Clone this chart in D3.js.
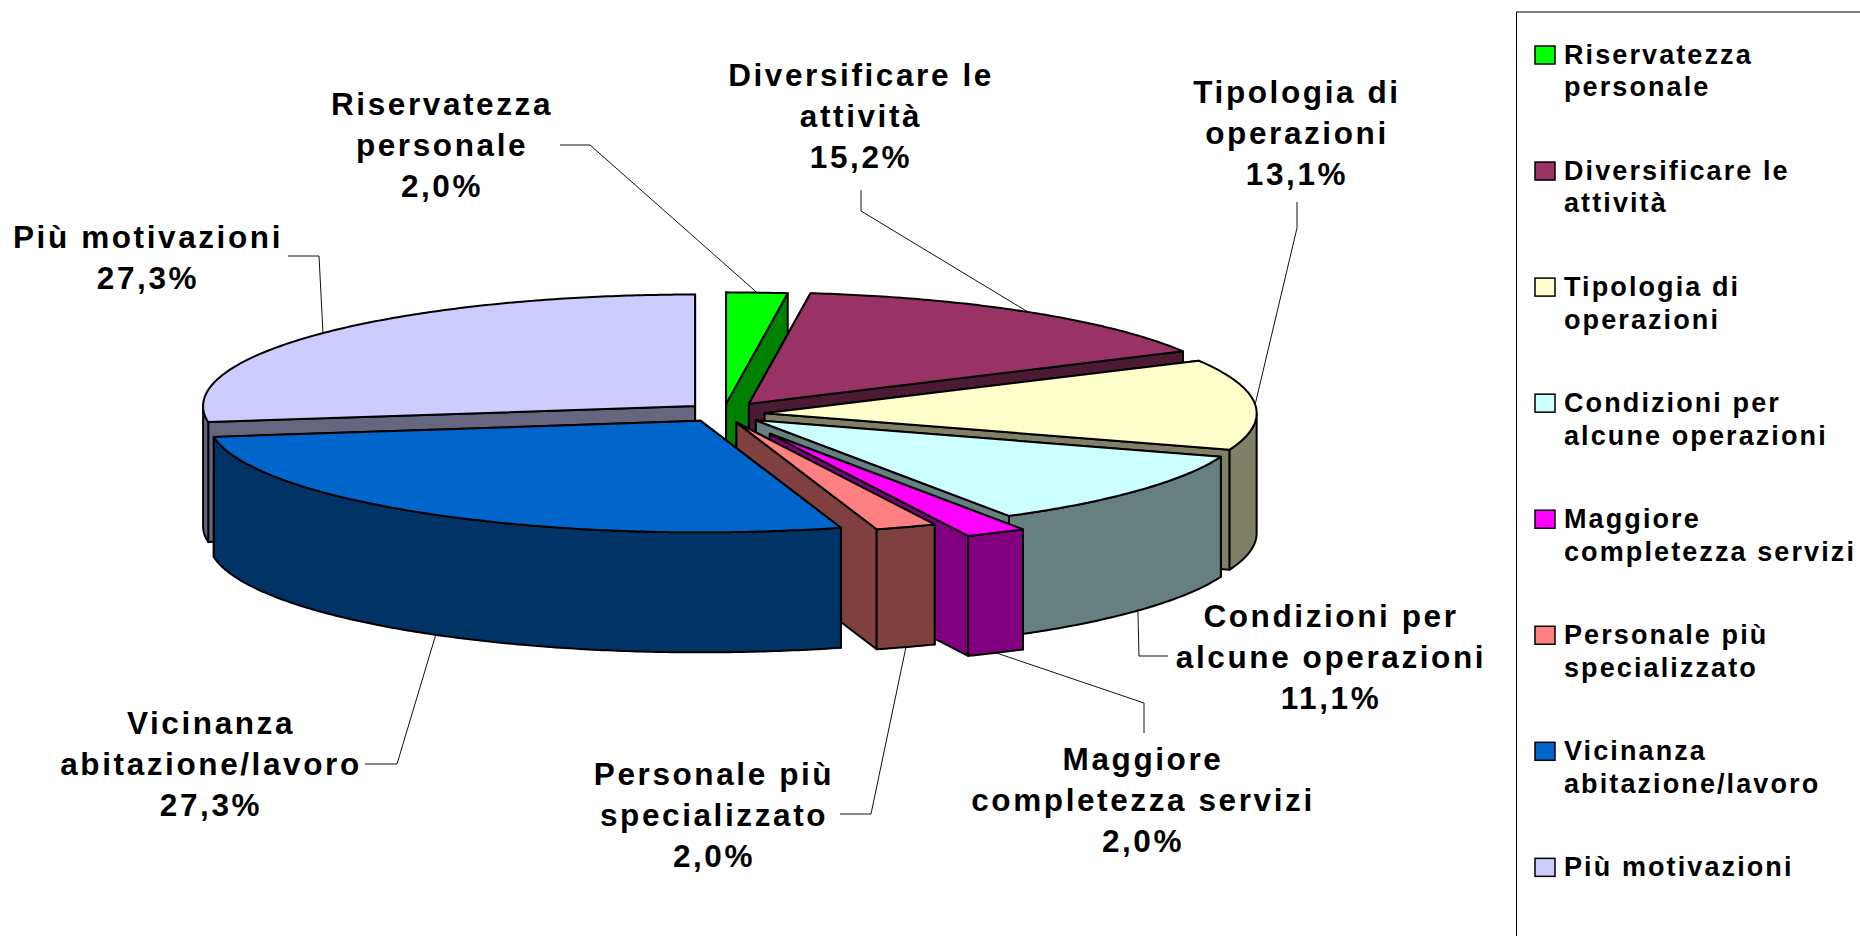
<!DOCTYPE html>
<html>
<head>
<meta charset="utf-8">
<script src="https://d3js.org/d3.v7.min.js"></script>
<style>
html,body{margin:0;padding:0;background:#fff;overflow:hidden}
text{font-family:"Liberation Sans",Arial,sans-serif;font-weight:700;fill:#000}
</style>
</head>
<body>
<script>
// ---- data ----
const categories = ["Riservatezza\npersonale","Diversificare le\nattività","Tipologia di\noperazioni","Condizioni per\nalcune operazioni","Maggiore\ncompletezza servizi","Personale più\nspecializzato","Vicinanza\nabitazione/lavoro","Più motivazioni"];
const values = [2.0,15.2,13.1,11.1,2.0,2.0,27.3,27.3];
const topColors = ["#00FF00","#993366","#FFFFCC","#CCFFFF","#FF00FF","#FF8080","#0066CC","#CCCCFF"];
const wallColors = ["#008000","#4D1A33","#808066","#668080","#800080","#804040","#003366","#666680"];
const explode = [0.10,0.10,0.09,0.09,0.205,0.085,0.073,0.075];
const nudgeX = [1,-1,-1.5,-0.5,1.5,0,-2,1];
const nudgeY = [1,-1,0,0,-0.5,-0.5,0,-2.5];

// ---- layout ----
const W=1860,H=936;
const C={x:722,y:414},R={x:492,y:111.5},DEPTH=120;
const drawOrder=[7,0,1,2,3,4,5,6];
const labelLayout=[ // label centre, first baseline, leader knee(s) in page pixels
 {x:442,y:115,leader:[[590,145],[560,145]]},
 {x:861,y:86,leader:[[861,211],[861,190]]},
 {x:1297,y:103,leader:[[1297,228],[1297,202]]},
 {x:1331,y:627,leader:[[1139,656],[1168,656]]},
 {x:1143,y:770,leader:[[1144,703],[1144,733]]},
 {x:714,y:785,leader:[[871,814],[840,814]]},
 {x:211,y:734,leader:[[397,764],[365,764]]},
 {x:148,y:248,leader:[[319,256],[288,256]]}
];
const LABEL_FS=31.5,LABEL_LH=41,LABEL_LS=2.6;
const LEG={x:1516,y:12,swX:1535,swW:20,swH:18,txtX:1564,first:64,step:116.05,fs:27,lh:32.4,ls:2.1};

const svg=d3.select("body").append("svg").attr("width",W).attr("height",H).style("display","block");
const fmt=d3.formatLocale({decimal:",",thousands:".",grouping:[3],currency:["","€"]}).format(".1f");

const arcs=d3.pie().sort(null).value(d=>d)(values);
arcs.forEach((a,i)=>{
  const m=(a.startAngle+a.endAngle)/2;
  a.apex={x:C.x+nudgeX[i]+explode[i]*R.x*Math.sin(m),y:C.y+nudgeY[i]-explode[i]*R.y*Math.cos(m)};
  a.mid=m;
});
const rim=(a,t)=>({x:a.apex.x+R.x*Math.sin(t),y:a.apex.y-R.y*Math.cos(t)});
const line=d3.line().x(p=>p.x).y(p=>p.y);
const arcPts=(a,t0,t1)=>{const n=Math.max(2,Math.ceil((t1-t0)/0.01));return d3.range(n+1).map(k=>rim(a,t0+(t1-t0)*k/n));};
const down=p=>({x:p.x,y:p.y+DEPTH});

const gPie=svg.append("g").attr("stroke","#000").attr("stroke-width",2).attr("stroke-linejoin","round");
drawOrder.forEach(i=>{
  const a=arcs[i],g=gPie.append("g");
  // cut-edge walls
  [a.startAngle,a.endAngle].forEach(t=>{
    const c=rim(a,t);
    g.append("path").attr("fill",wallColors[i])
     .attr("d",line([a.apex,c,down(c),down(a.apex)])+"Z");
  });
  // outer wall: only the viewer-facing part
  const t0=Math.max(a.startAngle,Math.PI/2),t1=Math.min(a.endAngle,3*Math.PI/2);
  if(t1>t0){
    const p=arcPts(a,t0,t1);
    g.append("path").attr("fill",wallColors[i])
     .attr("d",line(p.concat(p.map(down).reverse()))+"Z");
  }
  // top face
  g.append("path").attr("fill",topColors[i])
   .attr("d",line([a.apex].concat(arcPts(a,a.startAngle,a.endAngle)))+"Z");
});

// leaders + labels
const gLab=svg.append("g");
arcs.forEach((a,i)=>{
  const L=labelLayout[i];
  let anchor=rim(a,a.mid);
  const c=Math.cos(a.mid);
  if(c<0) anchor=down(anchor);
  const pts=[[anchor.x,anchor.y]].concat(L.leader);
  gLab.append("path").attr("fill","none").attr("stroke","#111").attr("stroke-width",1)
    .attr("d",d3.line()(pts));
  const lines=categories[i].split("\n").concat(fmt(values[i])+"%");
  const t=gLab.append("text").attr("text-anchor","middle").attr("font-size",LABEL_FS).attr("letter-spacing",LABEL_LS);
  lines.forEach((s,k)=>t.append("tspan").attr("x",L.x).attr("y",L.y+k*LABEL_LH).text(s));
});

// legend
const gLeg=svg.append("g");
gLeg.append("rect").attr("x",LEG.x+.5).attr("y",LEG.y).attr("width",W).attr("height",H)
  .attr("fill","#fff").attr("stroke","#000").attr("stroke-width",1);
categories.forEach((c,i)=>{
  const y=LEG.first+i*LEG.step;
  gLeg.append("rect").attr("x",LEG.swX).attr("y",y-LEG.swH).attr("width",LEG.swW).attr("height",LEG.swH)
    .attr("fill",topColors[i]).attr("stroke","#000").attr("stroke-width",1.5);
  const t=gLeg.append("text").attr("font-size",LEG.fs).attr("letter-spacing",LEG.ls);
  c.split("\n").forEach((s,k)=>t.append("tspan").attr("x",LEG.txtX).attr("y",y+k*LEG.lh).text(s));
});
</script>
</body>
</html>
